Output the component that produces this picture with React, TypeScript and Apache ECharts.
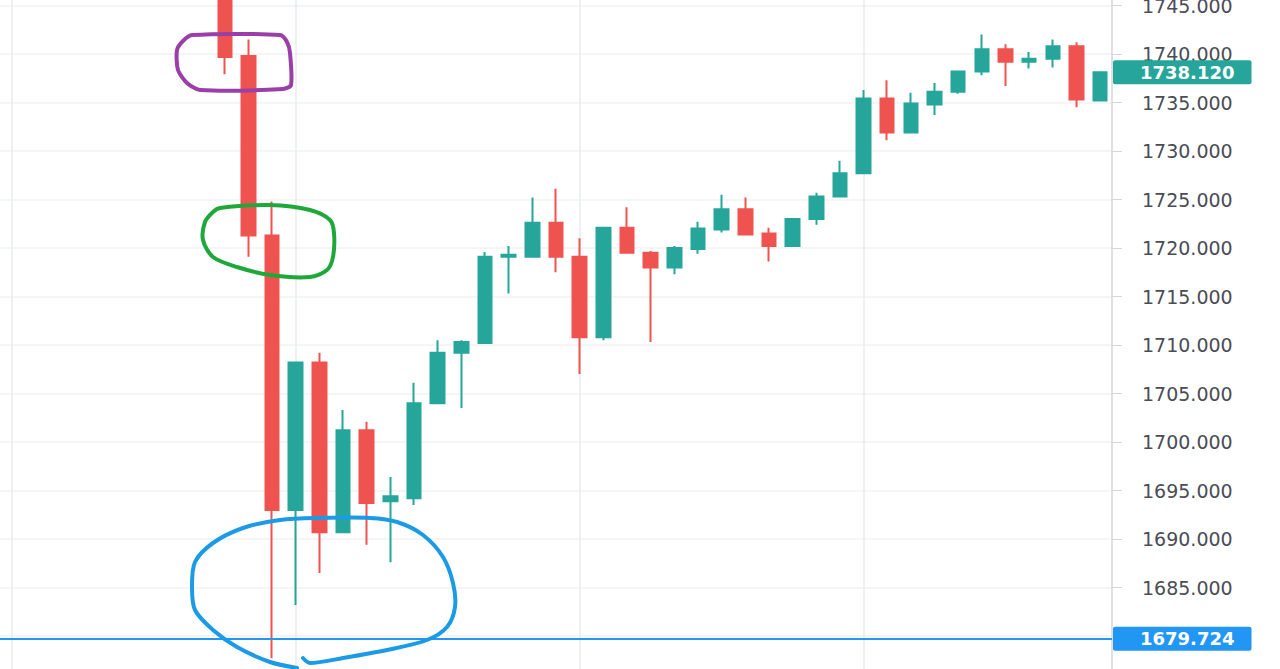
import React, { useEffect, useRef } from "react";
import * as echarts from "echarts";

// ---- data ----
const categories = [
  "1", "2", "3", "4", "5", "6", "7", "8", "9", "10",
  "11", "12", "13", "14", "15", "16", "17", "18", "19", "20",
  "21", "22", "23", "24", "25", "26", "27", "28", "29", "30",
  "31", "32", "33", "34", "35", "36", "37", "38", "39", "40",
  "41", "42", "43", "44", "45", "46", "47",
];

const opens = [
  null, null, null, null, null, null, null, null, null,
  1747.5, 1739.8, 1721.3, 1693.0, 1708.2, 1690.7, 1701.2, 1693.9, 1694.2, 1704.0,
  1709.2, 1710.2, 1719.1, 1719.1, 1722.6, 1719.1, 1710.8, 1722.1, 1719.5, 1718.0,
  1719.9, 1721.9, 1724.0, 1721.5, 1720.2, 1723.0, 1725.3, 1727.7, 1735.4, 1731.9,
  1734.8, 1736.1, 1738.2, 1740.5, 1739.2, 1739.5, 1740.8, 1735.2,
];
const closes = [
  null, null, null, null, null, null, null, null, null,
  1739.7, 1721.3, 1693.0, 1708.2, 1690.7, 1701.2, 1693.7, 1694.4, 1704.0, 1709.2,
  1710.3, 1719.1, 1719.3, 1722.6, 1719.1, 1710.8, 1722.1, 1719.5, 1718.0, 1720.0,
  1722.0, 1724.0, 1721.4, 1720.2, 1723.0, 1725.3, 1727.7, 1735.4, 1731.9, 1734.9,
  1736.1, 1738.2, 1740.5, 1739.2, 1739.5, 1740.8, 1735.3, 1738.12,
];
const lows = [
  null, null, null, null, null, null, null, null, null,
  1737.9, 1719.1, 1677.7, 1683.2, 1686.5, 1690.6, 1689.4, 1687.6, 1693.5, 1703.9,
  1703.5, 1710.1, 1715.3, 1719.0, 1717.5, 1707.0, 1710.5, 1719.4, 1710.3, 1717.3,
  1719.4, 1721.6, 1721.3, 1718.6, 1720.1, 1722.4, 1725.2, 1727.6, 1731.1, 1731.8,
  1733.7, 1735.9, 1737.8, 1736.7, 1738.5, 1738.6, 1734.5, 1735.1,
];
const highs = [
  null, null, null, null, null, null, null, null, null,
  1748.5, 1741.5, 1724.8, 1708.3, 1709.2, 1703.3, 1702.1, 1696.4, 1706.1, 1710.5,
  1710.5, 1719.6, 1720.2, 1725.2, 1726.1, 1721.0, 1722.2, 1724.2, 1719.7, 1720.2,
  1722.7, 1725.5, 1725.2, 1722.1, 1723.1, 1725.7, 1729.0, 1736.3, 1737.3, 1736.0,
  1737.0, 1738.3, 1742.0, 1741.0, 1740.2, 1741.5, 1741.2, 1738.2,
];

const yMin = 1675;
const yMax = 1750;
const yStep = 5;
const hiddenTickLabels = [1680]; // covered by the level price tag
const lastPrice = 1738.12;
const levelPrice = 1679.724;
const gridCategories = ["1", "13", "25", "37"];

// ---- style ----
const UP = "#26a69a";
const DOWN = "#ef5350";
const LEVEL = "#2196f3";

// hand-drawn annotation strokes (pixel positions of the overlay drawings)
const purpleMark = [[192, 35], [280, 35], [287, 42], [290, 53], [291, 85], [283, 89], [200, 90], [187, 83], [178, 70], [177, 50], [183, 41]];
const greenMark = [[220, 208], [270, 205], [310, 210], [330, 220], [334, 233], [333, 257], [327, 270], [310, 277], [270, 275], [237, 267], [213, 257], [203, 240], [205, 222], [213, 212]];
const blueMark = [[297, 668], [270, 662], [237, 647], [213, 630], [195, 610], [192, 587], [195, 562], [213, 543], [243, 528], [280, 520], [320, 518], [370, 518], [397, 522], [423, 535], [443, 557], [453, 583], [455, 607], [447, 627], [427, 640], [387, 650], [343, 658], [310, 663], [303, 658]];

export default function App() {
  const ref = useRef<HTMLDivElement>(null);

  useEffect(() => {
    if (!ref.current) return;
    const chart = echarts.init(ref.current, undefined, { renderer: "svg" });

    const candleData = categories.map((_, i) =>
      opens[i] == null ? "-" : [opens[i], closes[i], lows[i], highs[i]]
    );

    const priceLabel = (bg: string) => ({
      show: true,
      position: "end",
      distance: 1,
      formatter: (p: any) => Number(p.value).toFixed(3),
      color: "#ffffff",
      fontWeight: "bold",
      fontFamily: "DejaVu Sans",
      fontSize: 18,
      backgroundColor: bg,
      borderRadius: 2,
      padding: [3, 17, 3, 27],
    });

    chart.setOption({
      animation: false,
      backgroundColor: "#ffffff",
      grid: {
        left: 0,
        right: 168,
        top: -43,
        bottom: -15.5,
        containLabel: false,
        outerBoundsMode: "none",
      },
      xAxis: {
        type: "category",
        data: categories,
        boundaryGap: true,
        axisLine: { show: false },
        axisTick: { show: false },
        axisLabel: { show: false },
        splitLine: { show: false },
      },
      yAxis: {
        type: "value",
        position: "right",
        min: yMin,
        max: yMax,
        interval: yStep,
        axisLine: { show: true, lineStyle: { color: "#d4d6da", width: 1.5 } },
        axisTick: { show: true, length: 10, lineStyle: { color: "#d4d6da" } },
        axisLabel: {
          margin: 30,
          color: "#4a4d55",
          fontFamily: "DejaVu Sans",
          fontSize: 19,
          showMinLabel: false,
          showMaxLabel: false,
          formatter: (v: number) => (hiddenTickLabels.includes(v) ? "" : v.toFixed(3)),
        },
        splitLine: { show: true, lineStyle: { color: "#f1f2f5", width: 1.5 } },
      },
      series: [
        {
          type: "line",
          data: [],
          silent: true,
          z: 1,
          markLine: {
            silent: true,
            symbol: ["none", "none"],
            animation: false,
            data: [
              ...gridCategories.map((c) => ({
                xAxis: c,
                lineStyle: { color: "#e9ebef", width: 1.5, type: "solid" },
                label: { show: false },
              })),
            ],
          },
        },
        {
          type: "candlestick",
          data: candleData,
          barWidth: 14,
          z: 6,
          itemStyle: {
            color: UP,
            color0: DOWN,
            borderColor: UP,
            borderColor0: DOWN,
            borderWidth: 2,
          },
          markLine: {
            silent: true,
            symbol: ["none", "none"],
            animation: false,
            precision: 3,
            z: 7,
            data: [
              {
                yAxis: levelPrice,
                lineStyle: { color: LEVEL, width: 2, type: "solid" },
                label: priceLabel(LEVEL),
              },
              {
                yAxis: lastPrice,
                lineStyle: { color: "rgba(0,0,0,0)", width: 0 },
                label: priceLabel(UP),
              },
            ],
          },
        },
      ],
      graphic: [
        {
          type: "polygon",
          z: 100,
          shape: { points: purpleMark, smooth: 0.25 },
          style: { fill: "none", stroke: "#9a3ea8", lineWidth: 4 },
        },
        {
          type: "polygon",
          z: 100,
          shape: { points: greenMark, smooth: 0.3 },
          style: { fill: "none", stroke: "#1fa83a", lineWidth: 4 },
        },
        {
          type: "polyline",
          z: 100,
          shape: { points: blueMark, smooth: 0.3 },
          style: { fill: "none", stroke: "#1b9be6", lineWidth: 4, lineCap: "round", lineJoin: "round" },
        },
      ],
    });

    return () => chart.dispose();
  }, []);

  return (
    <div
      ref={ref}
      style={{ position: "fixed", left: 0, top: 0, width: 1280, height: 669, background: "#fff" }}
    />
  );
}
